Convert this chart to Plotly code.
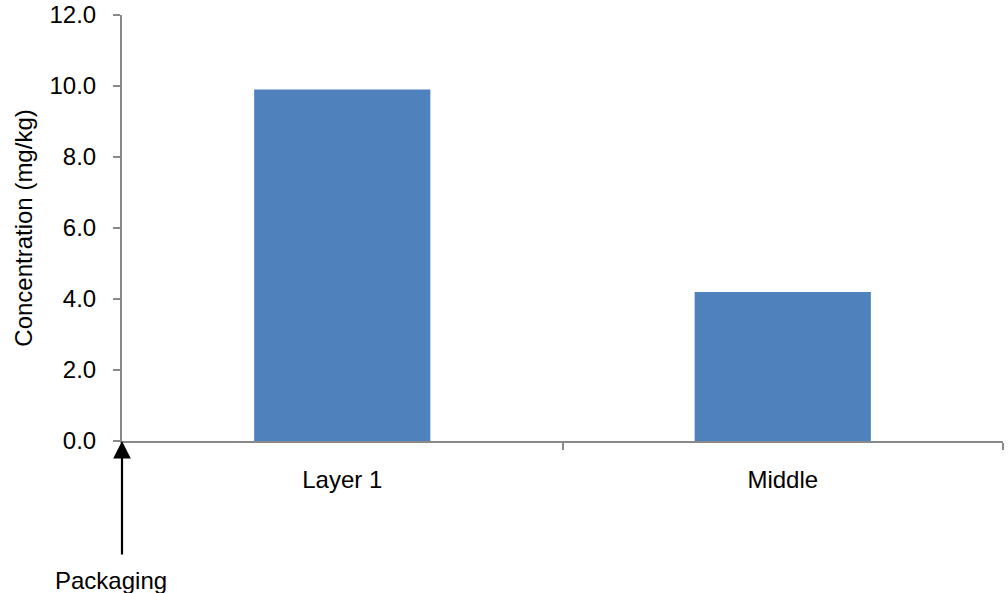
import plotly.graph_objects as go

categories = ["Layer 1", "Middle"]
values = [9.9, 4.2]
y_ticks = [0, 2, 4, 6, 8, 10, 12]
y_tick_labels = ["0.0", "2.0", "4.0", "6.0", "8.0", "10.0", "12.0"]

font_family = "Liberation Sans, Arial, sans-serif"
axis_color = "#898989"

fig = go.Figure()
fig.add_trace(go.Bar(
    x=categories, y=values,
    marker=dict(color="#4f81bd", line=dict(width=0)),
    width=0.4,
))

fig.update_layout(
    width=1008, height=593,
    margin=dict(l=122, r=5, t=15, b=152, pad=0),
    paper_bgcolor="white", plot_bgcolor="white",
    font=dict(family=font_family, size=24, color="black"),
    showlegend=False,
    xaxis=dict(
        type="category", range=[-0.5, 1.5], automargin=False,
        tickson="boundaries", ticks="outside", ticklen=7, tickcolor=axis_color, tickwidth=2,
        showline=True, linecolor=axis_color, linewidth=2,
        showgrid=False, zeroline=False,
        tickfont=dict(size=24), ticklabelstandoff=16,
    ),
    yaxis=dict(
        range=[0, 12], tickvals=y_ticks, ticktext=y_tick_labels, automargin=False,
        ticks="outside", ticklen=7, tickcolor=axis_color, tickwidth=2,
        showline=True, linecolor=axis_color, linewidth=2,
        showgrid=False, zeroline=False,
        title=dict(text="Concentration (mg/kg)", font=dict(size=24), standoff=10),
        tickfont=dict(size=24), ticklabelstandoff=12, ticklabeloverflow="allow",
    ),
)

fig.add_annotation(
    xref="paper", yref="paper", x=0, y=0,
    ax=0, ay=115, axref="pixel", ayref="pixel",
    text="", showarrow=True, arrowhead=2, arrowsize=1.6, arrowwidth=2.2, arrowcolor="black",
)
fig.add_annotation(
    xref="paper", yref="paper", x=0, y=0, yshift=-139, xshift=-11,
    text="Packaging", showarrow=False, font=dict(size=24),
    xanchor="center", yanchor="middle",
)

# remove the default 8px page margin so the figure fills the window exactly
fig.write_html(
    "out.html",
    config={"displayModeBar": False},
    post_script="document.body.style.margin='0';",
)
